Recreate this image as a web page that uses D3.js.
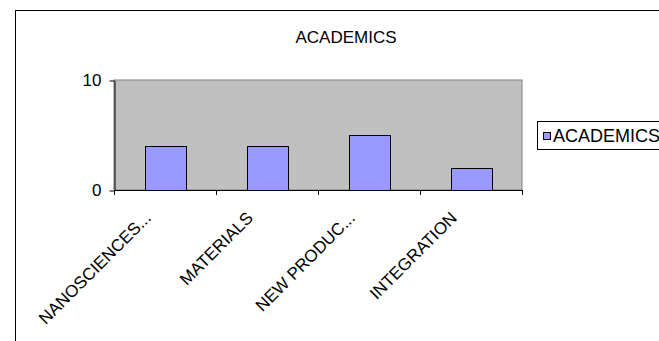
<!DOCTYPE html>
<html>
<head>
<meta charset="utf-8">
<script src="https://cdn.jsdelivr.net/npm/d3@7"></script>
<style>
  body { margin: 0; background: #fff; }
  svg text { font-family: Arial, "Liberation Sans", sans-serif; font-size: 17px; fill: #000; }
</style>
</head>
<body>
<div id="chart"></div>
<script>
'use strict';

var categories = ['NANOSCIENCES...', 'MATERIALS', 'NEW PRODUC...', 'INTEGRATION'];
var academics = [4, 4, 5, 2];
var yTicks = [0, 10];
var seriesName = 'ACADEMICS';
var chartTitle = 'ACADEMICS';

var width = 659, height = 341;
var plot = {left: 114, top: 80, right: 522, bottom: 190};

var svg = d3.select('#chart')
  .append('svg')
  .attr('width', width)
  .attr('height', height);

// Chart border (runs off the right and bottom edges)
svg.append('rect')
  .attr('x', 15.5).attr('y', 10.5)
  .attr('width', 700).attr('height', 400)
  .attr('fill', '#fff')
  .attr('stroke', '#000');

svg.append('text')
  .attr('x', 346).attr('y', 43)
  .attr('text-anchor', 'middle')
  .text(chartTitle);

// Scales
var xScale = d3.scaleBand()
  .domain(categories)
  .range([plot.left, plot.right])
  .paddingInner(0.6)
  .paddingOuter(0.3);

var yScale = d3.scaleLinear()
  .domain([0, 10])
  .range([plot.bottom, plot.top]);

// Plot area
svg.append('rect')
  .attr('x', plot.left).attr('y', plot.top)
  .attr('width', plot.right - plot.left)
  .attr('height', plot.bottom - plot.top)
  .attr('fill', '#c0c0c0')
  .attr('stroke', '#808080');

// Bars
svg.selectAll('.bar')
  .data(academics)
  .enter().append('rect')
  .attr('class', 'bar')
  .attr('x', function(d, i) { return Math.round(xScale(categories[i])) + 0.5; })
  .attr('y', function(d) { return Math.round(yScale(d)) + 0.5; })
  .attr('width', Math.round(xScale.bandwidth()))
  .attr('height', function(d) { return Math.round(yScale(0)) - Math.round(yScale(d)); })
  .attr('fill', '#9999ff')
  .attr('stroke', '#000');

// Y axis
var yAxis = svg.append('g')
  .attr('transform', 'translate(' + (plot.left + 0.5) + ',0.5)')
  .call(d3.axisLeft(yScale).tickValues(yTicks).tickSize(5).tickPadding(8).tickSizeOuter(0));
yAxis.selectAll('text').style('font-size', '17px').attr('font-family', null);
yAxis.selectAll('line, path').attr('stroke', '#000');

// X axis: ticks at category boundaries
var bounds = d3.range(categories.length + 1).map(function(i) {
  return plot.left + (plot.right - plot.left) * i / categories.length;
});
var xAxis = svg.append('g');
xAxis.append('line')
  .attr('x1', plot.left).attr('x2', plot.right)
  .attr('y1', plot.bottom + 0.5).attr('y2', plot.bottom + 0.5)
  .attr('stroke', '#000');
xAxis.selectAll('.xtick')
  .data(bounds)
  .enter().append('line')
  .attr('class', 'xtick')
  .attr('x1', function(d) { return Math.round(d) + 0.5; })
  .attr('x2', function(d) { return Math.round(d) + 0.5; })
  .attr('y1', plot.bottom).attr('y2', plot.bottom + 5)
  .attr('stroke', '#000');

xAxis.selectAll('.xlabel')
  .data(categories)
  .enter().append('text')
  .attr('class', 'xlabel')
  .attr('text-anchor', 'end')
  .attr('transform', function(d) {
    var cx = xScale(d) + xScale.bandwidth() / 2 - 13;
    return 'translate(' + cx + ',' + (plot.bottom + 29) + ') rotate(-45)';
  })
  .text(function(d) { return d; });

// Legend
var legend = svg.append('g');
legend.append('rect')
  .attr('x', 537.5).attr('y', 121.5)
  .attr('width', 200).attr('height', 28)
  .attr('fill', '#fff')
  .attr('stroke', '#000');
legend.append('rect')
  .attr('x', 543.5).attr('y', 132.5)
  .attr('width', 7).attr('height', 7)
  .attr('fill', '#9999ff')
  .attr('stroke', '#000');
legend.append('text')
  .attr('x', 553).attr('y', 142)
  .style('font-size', '18px')
  .text(seriesName);
</script>
</body>
</html>
